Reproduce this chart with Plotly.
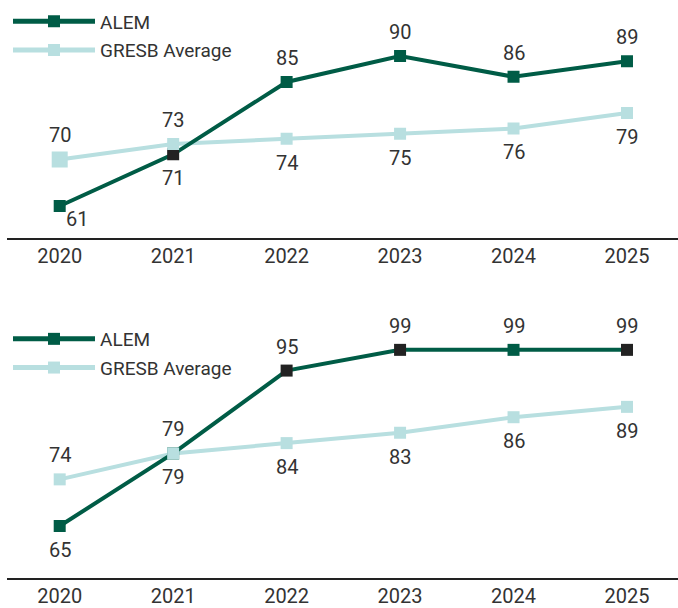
import plotly.graph_objects as go

years = ["2020", "2021", "2022", "2023", "2024", "2025"]

# Top panel
alem_top = [61, 71, 85, 90, 86, 89]
gresb_top = [70, 73, 74, 75, 76, 79]
alem_top_labels = ["61", "71", "85", "90", "86", "89"]
gresb_top_labels = ["70", "73", "74", "75", "76", "79"]

# Bottom panel (positions as drawn; printed labels)
alem_bot = [65, 79, 95, 99, 99, 99]
gresb_bot = [74, 79, 81, 83, 86, 88]
alem_bot_labels = ["65", "79", "95", "99", "99", "99"]
gresb_bot_labels = ["74", "79", "84", "83", "86", "89"]

# styles
GREEN = "#005c46"
DARK = "#222222"
LIGHT = "#b8dfe0"
TEXT = "#333333"
FONT = "Roboto, Lato, sans-serif"

alem_top_colors = [GREEN, DARK, GREEN, GREEN, GREEN, GREEN]
alem_bot_colors = [GREEN, GREEN, DARK, DARK, GREEN, DARK]
gresb_top_sizes = [16, 12, 12, 12, 12, 12]
gresb_bot_sizes = [12, 12, 12, 12, 12, 12]

alem_top_side = ["br", "below", "above", "above", "above", "above"]
gresb_top_side = ["above", "above", "below", "below", "below", "below"]
alem_bot_side = ["below", "below", "above", "above", "above", "above"]
gresb_bot_side = ["above", "above", "below", "below", "below", "below"]

xi = list(range(len(years)))

fig = go.Figure()


def add_panel(alem, gresb, alem_colors, gresb_sizes, xa, ya, legend):
    fig.add_trace(go.Scatter(x=xi, y=gresb, mode="lines", line=dict(color=LIGHT, width=4),
                             xaxis=xa, yaxis=ya, showlegend=False, hoverinfo="skip"))
    fig.add_trace(go.Scatter(x=xi, y=alem, mode="lines+markers", name="ALEM",
                             line=dict(color=GREEN, width=4),
                             marker=dict(symbol="square", size=12, color=alem_colors, line=dict(width=0)),
                             xaxis=xa, yaxis=ya, legend=legend, legendgroup="a" + legend))
    fig.add_trace(go.Scatter(x=xi, y=gresb, mode="markers",
                             marker=dict(symbol="square", size=gresb_sizes, color=LIGHT,
                                         opacity=1, line=dict(width=0)),
                             xaxis=xa, yaxis=ya, showlegend=False))
    fig.add_trace(go.Scatter(x=[None], y=[None], mode="lines+markers", name="GRESB Average",
                             line=dict(color=LIGHT, width=4),
                             marker=dict(symbol="square", size=12, color=LIGHT, line=dict(width=0)),
                             xaxis=xa, yaxis=ya, legend=legend, legendgroup="g" + legend))


add_panel(alem_top, gresb_top, alem_top_colors, gresb_top_sizes, "x", "y", "legend")
add_panel(alem_bot, gresb_bot, alem_bot_colors, gresb_bot_sizes, "x2", "y2", "legend2")

annotations = []


def add_labels(vals, labels, sides, xref, yref):
    for i, (v, t, s) in enumerate(zip(vals, labels, sides)):
        xs, ys = 0, 0
        if s == "above":
            ys = 24
        elif s == "below":
            ys = -24
        elif s == "br":
            xs, ys = 17, -13
        annotations.append(dict(x=xi[i], y=v, xref=xref, yref=yref, text=t, showarrow=False,
                                xshift=xs, yshift=ys, font=dict(size=20, color=TEXT, family=FONT)))


add_labels(alem_top, alem_top_labels, alem_top_side, "x", "y")
add_labels(gresb_top, gresb_top_labels, gresb_top_side, "x", "y")
add_labels(alem_bot, alem_bot_labels, alem_bot_side, "x2", "y2")
add_labels(gresb_bot, gresb_bot_labels, gresb_bot_side, "x2", "y2")

xaxis_style = dict(tickmode="array", tickvals=xi, ticktext=years, range=[-0.4645, 5.4496],
                   showline=True, linecolor=DARK, linewidth=2, showgrid=False, zeroline=False,
                   ticks="", ticklabelstandoff=-1,
                   tickfont=dict(size=20, color=TEXT, family=FONT), fixedrange=True)
yaxis_style = dict(visible=False, showgrid=False, zeroline=False)

legend_style = dict(font=dict(size=19, color=TEXT, family=FONT), itemwidth=82, itemsizing="constant",
                    bgcolor="rgba(0,0,0,0)", borderwidth=0, traceorder="grouped", tracegroupgap=1,
                    xanchor="left", yanchor="top", xref="paper", yref="paper")

fig.update_layout(
    width=678, height=608,
    margin=dict(l=7, r=0, t=0, b=30, autoexpand=False),
    paper_bgcolor="white", plot_bgcolor="white",
    font=dict(family=FONT, color=TEXT),
    xaxis=dict(domain=[0, 1], anchor="y", **xaxis_style),
    yaxis=dict(domain=[0.5891, 1], anchor="x", range=[54.91, 100.85], **yaxis_style),
    xaxis2=dict(domain=[0, 1], anchor="y2", **xaxis_style),
    yaxis2=dict(domain=[0, 0.481], anchor="x2", range=[54.96, 108.63], **yaxis_style),
    legend=dict(x=1 / 671, y=575.5 / 578, **legend_style),
    legend2=dict(x=1 / 671, y=(578 - 320) / 578, **legend_style),
    annotations=annotations,
    showlegend=True,
)

fig.write_html("out.html")
